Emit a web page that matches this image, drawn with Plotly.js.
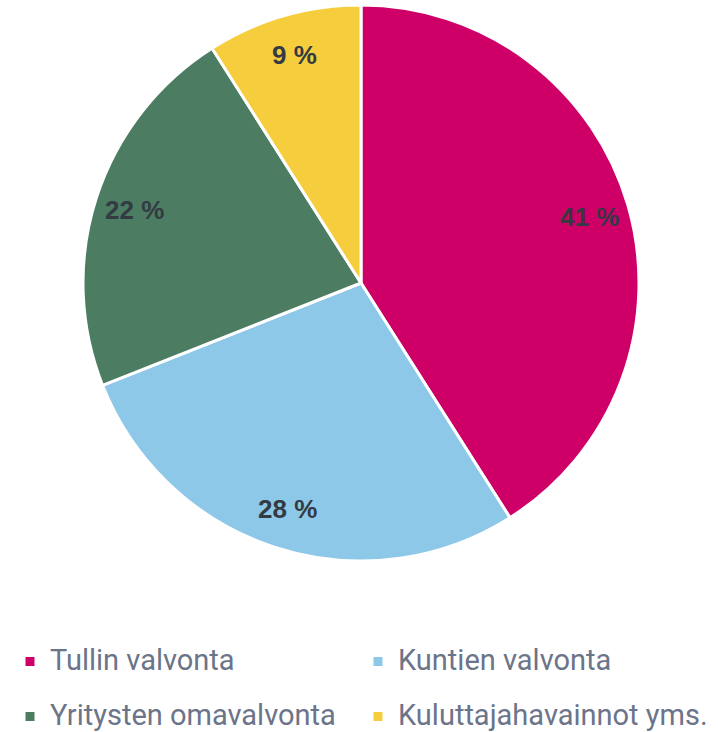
<!DOCTYPE html>
<html><head><meta charset="utf-8">
<script src="https://cdn.plot.ly/plotly-3.0.1.min.js"></script>
<style>html,body{margin:0;padding:0;background:#fff}</style>
</head><body>
<div id="chart" style="width:718px;height:732px"></div>
<script>
const labels = ["Tullin valvonta", "Kuntien valvonta", "Yritysten omavalvonta", "Kuluttajahavainnot yms."];
const values = [41, 28, 22, 9];
const colors = ["#CE0067", "#8DC8E8", "#4C7C62", "#F6CD3D"];

const W = 718, H = 732;
// desired pie placement in figure pixels
const PIE = {cx: 361, cy: 283, r: 278};

// legend labels: visible text size inside a taller legend line
const legendLabels = labels.map(l => '<span style="font-size:29px;baseline-shift:7px">' + l + '</span>');

function build(size) {
  const dom = {
    x: [(PIE.cx - PIE.r - size.l) / size.w, (PIE.cx + PIE.r - size.l) / size.w],
    y: [1 - (PIE.cy + PIE.r - size.t) / size.h, 1 - (PIE.cy - PIE.r - size.t) / size.h]
  };
  const total = values.reduce((a, b) => a + b, 0);
  const cx = (dom.x[0] + dom.x[1]) / 2, cy = (dom.y[0] + dom.y[1]) / 2;
  const rPx = Math.min((dom.x[1] - dom.x[0]) * size.w, (dom.y[1] - dom.y[0]) * size.h) / 2;
  let cum = 0;
  const annotations = values.map(v => {
    const m = (cum + v / 2) / total; cum += v;
    const th = 2 * Math.PI * m;
    const rr = 0.855 * rPx;
    return {
      xref: 'paper', yref: 'paper', showarrow: false,
      x: cx + rr * Math.sin(th) / size.w, y: cy + rr * Math.cos(th) / size.h,
      xanchor: 'center', yanchor: 'middle',
      text: '<b>' + v + ' %</b>',
      font: {family: 'Liberation Sans, Arial, sans-serif', size: 26, color: '#333A44'}
    };
  });
  const trace = {
    type: 'pie', labels: legendLabels, values: values, sort: false, direction: 'clockwise', rotation: 0,
    marker: {colors: colors, line: {color: '#FFFFFF', width: 3}},
    textinfo: 'none', hoverinfo: 'percent',
    domain: dom
  };
  const layout = {
    width: W, height: H, margin: {l: 0, r: 0, t: 0, b: 0},
    paper_bgcolor: '#FFFFFF', plot_bgcolor: '#FFFFFF',
    showlegend: true,
    legend: {
      orientation: 'h', xref: 'container', yref: 'container',
      x: 10 / W, xanchor: 'left', y: 1 - 629 / H, yanchor: 'top',
      entrywidth: 303, entrywidthmode: 'pixels',
      font: {family: 'Roboto, sans-serif', size: 40, color: '#6B7489'},
      traceorder: 'normal'
    },
    annotations: annotations
  };
  return {data: [trace], layout: layout};
}

const gd = document.getElementById('chart');
const cfg = {displayModeBar: false, staticPlot: true};
const first = build({l: 0, t: 0, w: W, h: H});
Plotly.newPlot(gd, first.data, first.layout, cfg).then(() => {
  const s = gd._fullLayout._size;
  const next = build({l: s.l, t: s.t, w: s.w, h: s.h});
  return Plotly.react(gd, next.data, next.layout, cfg);
});
</script>
</body></html>
